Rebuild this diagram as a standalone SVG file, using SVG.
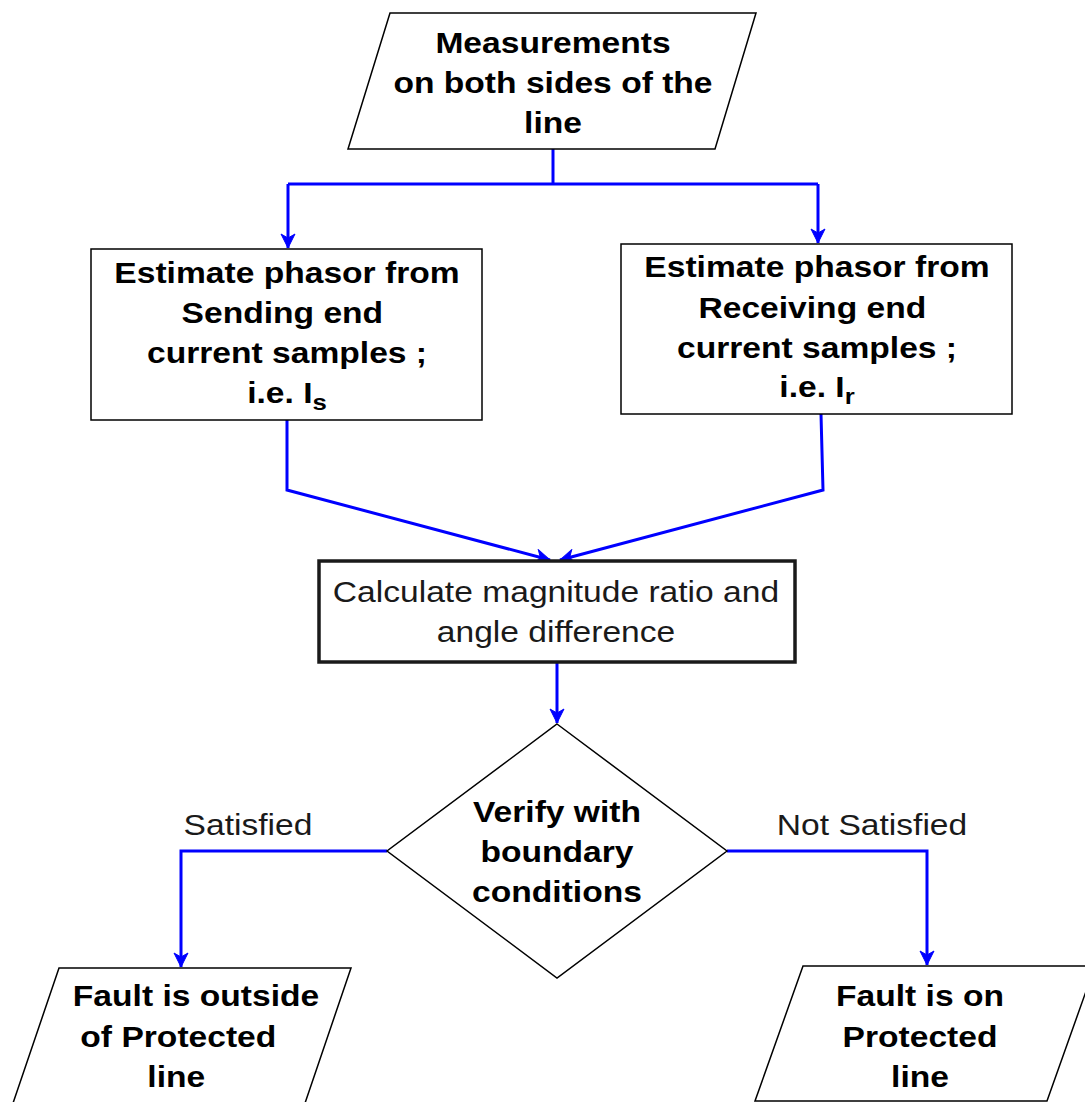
<svg xmlns="http://www.w3.org/2000/svg" width="1085" height="1102" viewBox="0 0 1085 1102">
<defs>
<style>
.shape{fill:#ffffff;stroke:#000000;stroke-width:1.5}
.thick{fill:#ffffff;stroke:#1a1a1a;stroke-width:3.5}
.conn{fill:none;stroke:#0000ff;stroke-width:3;stroke-linejoin:miter}
.b{font-family:"Liberation Sans",Arial,sans-serif;font-weight:bold;font-size:30px;fill:#000000;text-anchor:middle}
.n{font-family:"Liberation Sans",Arial,sans-serif;font-weight:normal;font-size:30px;fill:#1a1a1a;text-anchor:middle}
</style>
<marker id="arr" markerUnits="userSpaceOnUse" markerWidth="16" markerHeight="16" viewBox="0 0 16 16" refX="15" refY="8" orient="auto">
<path d="M1,1 L15,8 L1,15 L5,8 Z" fill="#0000ff" stroke="#0000ff" stroke-width="1"/>
</marker>
</defs>
<rect x="0" y="0" width="1085" height="1102" fill="#ffffff"/>

<g id="connectors">
<path class="conn" d="M553,149 L553,184"/>
<path class="conn" d="M288,184 L818,184"/>
<path class="conn" d="M288,184 L288,248" marker-end="url(#arr)"/>
<path class="conn" d="M818,184 L818,243" marker-end="url(#arr)"/>
<path class="conn" d="M287,420 L287,490 L550,560" marker-end="url(#arr)"/>
<path class="conn" d="M821,414 L823,490 L560,560" marker-end="url(#arr)"/>
<path class="conn" d="M557,662 L557,723" marker-end="url(#arr)"/>
<path class="conn" d="M387,851 L181,851 L181,967" marker-end="url(#arr)"/>
<path class="conn" d="M727,851 L927,851 L927,965" marker-end="url(#arr)"/>
</g>

<g id="label-satisfied">
<text class="n" transform="translate(248 0) scale(1.12 1)"><tspan x="0" y="835">Satisfied</tspan></text>
</g>
<g id="label-not-satisfied">
<text class="n" transform="translate(872 0) scale(1.12 1)"><tspan x="0" y="835">Not Satisfied</tspan></text>
</g>

<g id="node-measurements">
<polygon class="shape" points="390,13 756,13 715,149 348,149"/>
<text class="b" transform="translate(553 0) scale(1.12 1)"><tspan x="0" y="53">Measurements</tspan><tspan x="0" y="93">on both sides of the</tspan><tspan x="0" y="133">line</tspan></text>
</g>

<g id="node-sending">
<rect class="shape" x="91" y="249" width="391" height="171"/>
<text class="b" transform="translate(287 0) scale(1.12 1)"><tspan x="0" y="283">Estimate phasor from</tspan><tspan x="0" y="323">Sending end </tspan><tspan x="0" y="363">current samples ;</tspan><tspan x="0" y="403">i.e. I<tspan font-size="23" dy="7">s</tspan></tspan></text>
</g>

<g id="node-receiving">
<rect class="shape" x="621" y="244" width="391" height="170"/>
<text class="b" transform="translate(817 0) scale(1.12 1)"><tspan x="0" y="277">Estimate phasor from</tspan><tspan x="0" y="318">Receiving end </tspan><tspan x="0" y="358">current samples ;</tspan><tspan x="0" y="397">i.e. I<tspan font-size="23" dy="7">r</tspan></tspan></text>
</g>

<g id="node-calculate">
<rect class="thick" x="319" y="561" width="476" height="101"/>
<text class="n" transform="translate(556 0) scale(1.12 1)"><tspan x="0" y="602">Calculate magnitude ratio and</tspan><tspan x="0" y="642">angle difference</tspan></text>
</g>

<g id="node-verify">
<polygon class="shape" points="557,724 727,851 557,978 387,851"/>
<text class="b" transform="translate(557 0) scale(1.12 1)"><tspan x="0" y="822">Verify with</tspan><tspan x="0" y="862">boundary</tspan><tspan x="0" y="902">conditions</tspan></text>
</g>

<g id="node-outside">
<polygon class="shape" points="59,968 351,968 302,1112 10,1112"/>
<text class="b" transform="translate(196 0) scale(1.12 1)"><tspan x="0" y="1006">Fault is outside</tspan></text>
<text class="b" transform="translate(183 0) scale(1.12 1)"><tspan x="0" y="1047">of Protected </tspan><tspan x="-6" y="1087">line</tspan></text>
</g>

<g id="node-on">
<polygon class="shape" points="803,966 1095,966 1047,1101 755,1101"/>
<text class="b" transform="translate(920 0) scale(1.12 1)"><tspan x="0" y="1006">Fault is on</tspan><tspan x="0" y="1047">Protected</tspan><tspan x="0" y="1087">line</tspan></text>
</g>
</svg>
